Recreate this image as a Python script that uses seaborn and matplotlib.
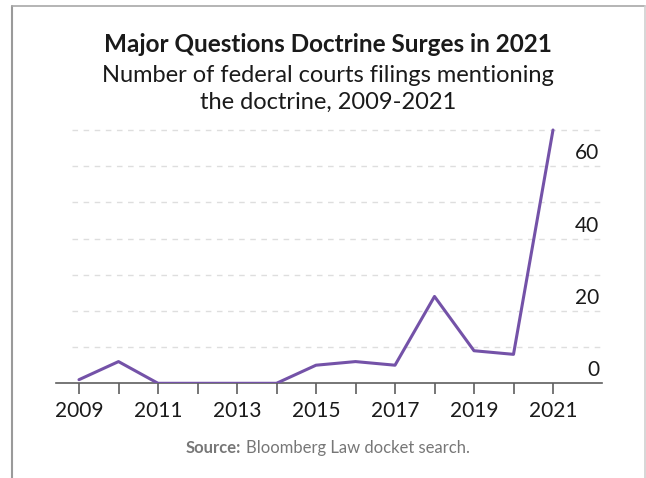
import matplotlib
matplotlib.use("Agg")
import matplotlib.pyplot as plt
import matplotlib.transforms as mtransforms
from matplotlib.lines import Line2D
import seaborn as sns
import pandas as pd

years = [2009, 2010, 2011, 2012, 2013, 2014, 2015, 2016, 2017, 2018, 2019, 2020, 2021]
filings = [1, 6, 0, 0, 0, 0, 5, 6, 5, 24, 9, 8, 70]
xtick_years = [2009, 2011, 2013, 2015, 2017, 2019, 2021]
ytick_values = [0, 20, 40, 60]
grid_values = [10, 20, 30, 40, 50, 60, 70]

title = "Major Questions Doctrine Surges in 2021"
subtitle_lines = ["Number of federal courts filings mentioning", "the doctrine, 2009-2021"]
source_bold = "Source:"
source_rest = "Bloomberg Law docket search."

sns.set_theme(style="white")
plt.rcParams["font.family"] = ["Lato", "DejaVu Sans"]

W, H = 646, 478
fig = plt.figure(figsize=(W / 100, H / 100), dpi=100)
fig.patch.set_facecolor("white")

left, right = 56, 602
bottom_px, top_px = 383.3, 128
ax = fig.add_axes([left / W, 1 - bottom_px / H, (right - left) / W, (bottom_px - top_px) / H])

df = pd.DataFrame({"year": years, "filings": filings})
sns.lineplot(data=df, x="year", y="filings", ax=ax, color="#7452a8", linewidth=2.2, zorder=3)

px_per_year = 39.5
x0 = 2009 - (79 - left) / px_per_year
x1 = x0 + (right - left) / px_per_year
ax.set_xlim(x0, x1)
ax.set_ylim(0, 70 * (bottom_px - top_px) / (bottom_px - 130))

for s in ["top", "left", "right"]:
    ax.spines[s].set_visible(False)
ax.spines["bottom"].set_color("#5f5f5f")
ax.spines["bottom"].set_linewidth(1.2)

gx = (72 - left) / (right - left)
for g in grid_values:
    ax.axhline(g, xmin=gx, xmax=1, color="#dedede", linestyle=(0, (4, 4)), linewidth=1, zorder=1)

ax.set_xticks(years)
ax.set_xticklabels([str(y) if y in xtick_years else "" for y in years])
ax.tick_params(axis="x", direction="out", length=8, width=1.2, color="#5f5f5f",
               labelsize=15, labelcolor="#1a1a1a", pad=5, bottom=True)

ax.yaxis.tick_right()
ax.set_yticks(ytick_values)
ax.set_yticklabels([str(v) for v in ytick_values])
ax.tick_params(axis="y", length=0, pad=0, labelsize=15, labelcolor="#1a1a1a", right=False)
offset = mtransforms.ScaledTranslation(-3 / 100, 3 / 100, fig.dpi_scale_trans)
for lab in ax.get_yticklabels():
    lab.set_horizontalalignment("right")
    lab.set_verticalalignment("bottom")
    lab.set_transform(lab.get_transform() + offset)

ax.set_xlabel("")
ax.set_ylabel("")

fig.text(328 / W, 1 - 45 / H, title, ha="center", va="center", fontsize=17.5,
         fontweight="bold", color="#1a1a1a")
fig.text(328 / W, 1 - 75 / H, subtitle_lines[0], ha="center", va="center", fontsize=17,
         color="#1a1a1a")
fig.text(328 / W, 1 - 102 / H, subtitle_lines[1], ha="center", va="center", fontsize=17,
         color="#1a1a1a")

sy = 1 - 448 / H
t1 = fig.text(0, sy, source_bold, ha="left", va="center", fontsize=12, fontweight="bold", color="#777777")
t2 = fig.text(0, sy, source_rest, ha="left", va="center", fontsize=12, color="#777777")
fig.canvas.draw()
w1 = t1.get_window_extent().width
w2 = t2.get_window_extent().width
gap = 5
total = w1 + gap + w2
start = 328 - total / 2
t1.set_x(start / W)
t2.set_x((start + w1 + gap) / W)

fig.add_artist(Line2D([11.5 / W, 11.5 / W], [0, 1 - 6 / H], transform=fig.transFigure, color="#9a9a9a", linewidth=1.5))
fig.add_artist(Line2D([11.5 / W, 645 / W], [1 - 6 / H, 1 - 6 / H], transform=fig.transFigure, color="#a8a8a8", linewidth=1.2))
fig.add_artist(Line2D([645 / W, 645 / W], [0, 1 - 6 / H], transform=fig.transFigure, color="#cfcfcf", linewidth=1.2))

fig.savefig("out.png", dpi=100, facecolor="white")
